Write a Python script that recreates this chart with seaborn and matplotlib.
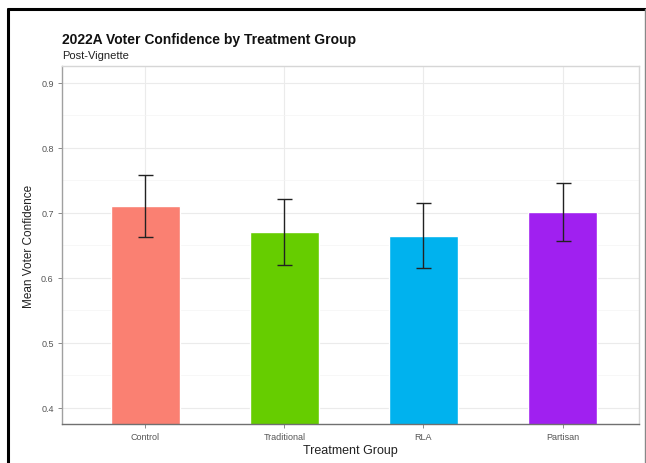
"""
2022A voter confidence by treatment group, post-vignette
"""
import numpy as np
import pandas as pd
import matplotlib.pyplot as plt
import matplotlib.ticker as mticker
import seaborn as sns

# data
groups = ['Control', 'Traditional', 'RLA', 'Partisan']
mean_conf = [0.711, 0.671, 0.665, 0.701]
ci_half = [0.048, 0.051, 0.050, 0.045]
bar_colors = ['#FA8072', '#66CD00', '#00B2EE', '#A020F0']

sns.set_theme(style='white')
plt.rcParams['font.family'] = ['Liberation Sans', 'DejaVu Sans']

df = pd.DataFrame({'group': groups, 'mean': mean_conf, 'ci': ci_half})

fig = plt.figure(figsize=(6.46, 4.64), dpi=100)
W, H = 646, 464
ax = fig.add_axes([62 / W, 1 - 425 / H, (639 - 62) / W, (425 - 67) / H])

sns.barplot(data=df, x='group', y='mean', hue='group', palette=bar_colors,
            order=groups, hue_order=groups, width=0.5, legend=False,
            errorbar=None, saturation=1, ax=ax, zorder=2)
ax.errorbar(np.arange(len(groups)), df['mean'], yerr=df['ci'], fmt='none',
            ecolor='#222222', elinewidth=1.0, capsize=5.4, capthick=1.0, zorder=3)

ax.set_ylim(0.375, 0.926)
ax.set_xlim(-0.6, 3.55)
ax.yaxis.set_major_locator(mticker.MultipleLocator(0.1))
ax.yaxis.set_minor_locator(mticker.MultipleLocator(0.05))
ax.yaxis.set_major_formatter(mticker.FormatStrFormatter('%.1f'))

ax.grid(True, which='major', color='#ebebeb', linewidth=0.8, zorder=0)
ax.grid(True, which='minor', axis='y', color='#f4f4f4', linewidth=0.5, zorder=0)
ax.set_axisbelow(True)

for side in ['top', 'right']:
    ax.spines[side].set_color('#d6d6d6')
    ax.spines[side].set_linewidth(1.0)
ax.spines['left'].set_color('#a0a0a0')
ax.spines['bottom'].set_color('#707070')
for side in ['left', 'bottom']:
    ax.spines[side].set_linewidth(1.0)

ax.tick_params(axis='both', which='major', length=3, width=0.6, color='#777777',
               labelsize=6.5, labelcolor='#555555', pad=3, left=True, bottom=True)
ax.tick_params(axis='y', which='minor', length=0)

ax.set_xlabel('Treatment Group', fontsize=9, color='#222222', labelpad=2)
ax.set_ylabel('Mean Voter Confidence', fontsize=8.5, color='#222222', labelpad=4)

fig.text(62 / W, 1 - 40 / H, '2022A Voter Confidence by Treatment Group',
         fontsize=10, fontweight='bold', color='#111111', va='center', ha='left')
fig.text(62 / W, 1 - 56 / H, 'Post-Vignette', fontsize=8, color='#222222',
         va='center', ha='left')

# screenshot frame
fig.add_artist(plt.Line2D([8 / W, 8 / W], [0, 1 - 10 / H], transform=fig.transFigure,
                          color='black', linewidth=2.2))
fig.add_artist(plt.Line2D([8 / W, 645 / W], [1 - 10 / H, 1 - 10 / H],
                          transform=fig.transFigure, color='black', linewidth=2.2))
fig.add_artist(plt.Line2D([645 / W, 645 / W], [0, 1 - 10 / H], transform=fig.transFigure,
                          color='#888888', linewidth=1.0))

fig.savefig('out.png', dpi=100)
